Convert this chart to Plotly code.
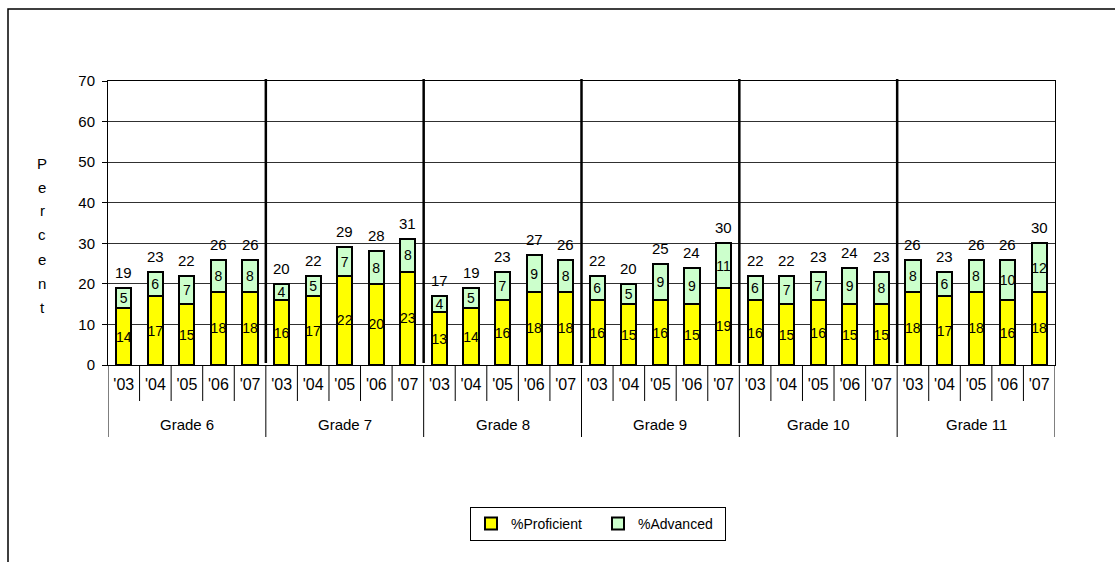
import plotly.graph_objects as go

# data
grades = ['Grade 6', 'Grade 7', 'Grade 8', 'Grade 9', 'Grade 10', 'Grade 11']
years = ["'03", "'04", "'05", "'06", "'07"]

proficient = [14, 17, 15, 18, 18,
              16, 17, 22, 20, 23,
              13, 14, 16, 18, 18,
              16, 15, 16, 15, 19,
              16, 15, 16, 15, 15,
              18, 17, 18, 16, 18]
advanced = [5, 6, 7, 8, 8,
            4, 5, 7, 8, 8,
            4, 5, 7, 9, 8,
            6, 5, 9, 9, 11,
            6, 7, 7, 9, 8,
            8, 6, 8, 10, 12]
totals = [19, 23, 22, 26, 26,
          20, 22, 29, 28, 31,
          17, 19, 23, 27, 26,
          22, 20, 25, 24, 30,
          22, 22, 23, 24, 23,
          26, 23, 26, 26, 30]

FONT = 'Liberation Sans, Arial, sans-serif'

# pixel layout of the plot area
L, R, T, B = 108, 1055, 81, 365
W, H = 1115, 562
pw, ph = R - L, B - T


def px_x(p):
    return (p - L) / pw


def px_y(p):
    return (B - p) / ph


n = len(years)
ncat = len(grades) * n
xpos = list(range(ncat))
year_labels = [y for _ in grades for y in years]

fig = go.Figure()

fig.add_trace(go.Bar(
    x=xpos, y=proficient, name='%Proficient',
    marker=dict(color='#FFFF00', line=dict(color='#000000', width=2)),
    text=proficient, textposition='inside', insidetextanchor='middle',
    textangle=0, textfont=dict(size=14, color='#000000'),
    width=0.48,
))
fig.add_trace(go.Bar(
    x=xpos, y=advanced, name='%Advanced',
    marker=dict(color='#CCFFCC', line=dict(color='#000000', width=2)),
    text=advanced, textposition='inside', insidetextanchor='middle',
    textangle=0, textfont=dict(size=14, color='#000000'),
    width=0.48,
))

# totals above each stack
for i, t in enumerate(totals):
    fig.add_annotation(x=i, y=t, text=str(t), showarrow=False,
                       yanchor='bottom', yshift=5,
                       font=dict(size=15, color='#000000'))

# thick separators between grades inside the plot
for k in range(1, len(grades)):
    fig.add_shape(type='line', xref='x', yref='paper',
                  x0=k * n - 0.5, x1=k * n - 0.5,
                  y0=px_y(363), y1=px_y(79),
                  line=dict(color='#000000', width=2.5))

# category separators below the axis
for k in range(ncat + 1):
    bottom = 437 if k % n == 0 else 401
    fig.add_shape(type='line', xref='x', yref='paper',
                  x0=k - 0.5, x1=k - 0.5, y0=px_y(bottom), y1=0,
                  line=dict(color='#000000', width=1))

# grade labels
for g, name in enumerate(grades):
    fig.add_annotation(text=name, xref='x', yref='paper',
                       x=g * n + (n - 1) / 2, y=px_y(424),
                       xanchor='center', yanchor='middle',
                       showarrow=False, font=dict(size=15, color='#000000'))

# outer chart border (top and left visible)
fig.add_shape(type='rect', xref='paper', yref='paper',
              x0=px_x(8), x1=px_x(W + 20), y0=px_y(H + 20), y1=px_y(9),
              line=dict(color='#000000', width=1.5), layer='below')

# stacked "Percent" axis title
for i, ch in enumerate('Percent'):
    fig.add_annotation(text=ch, xref='paper', yref='paper',
                       x=px_x(42), y=px_y(163 + i * 24),
                       xanchor='center', yanchor='middle',
                       showarrow=False, font=dict(size=15, color='#000000'))

fig.update_layout(
    barmode='stack',
    width=W, height=H,
    margin=dict(l=L, r=W - R, t=T, b=H - B),
    paper_bgcolor='#FFFFFF', plot_bgcolor='#FFFFFF',
    font=dict(family=FONT, size=14, color='#000000'),
    uniformtext=dict(minsize=14, mode='show'),
    legend=dict(orientation='h', x=px_x(598), xanchor='center',
                y=px_y(507), yanchor='top', traceorder='normal',
                bordercolor='#000000', borderwidth=1,
                font=dict(size=14), itemwidth=30, entrywidth=82),
    showlegend=True,
)
fig.update_xaxes(
    range=[-0.5, ncat - 0.5],
    tickmode='array', tickvals=xpos, ticktext=year_labels,
    ticks='', ticklabelstandoff=5,
    showline=True, linecolor='#000000', linewidth=1, mirror=True,
    tickfont=dict(size=16),
    showgrid=False, zeroline=False,
)
fig.update_yaxes(
    range=[0, 70], dtick=10,
    showline=True, linecolor='#000000', linewidth=1, mirror=True,
    ticks='outside', ticklen=5, tickcolor='#000000', ticklabelstandoff=4,
    gridcolor='#303030', gridwidth=1,
    tickfont=dict(size=15), zeroline=False,
)

fig.write_html('out.html',
               config={'displayModeBar': False},
               post_script="document.body.style.margin='0';"
                           "document.body.style.overflow='hidden';")
